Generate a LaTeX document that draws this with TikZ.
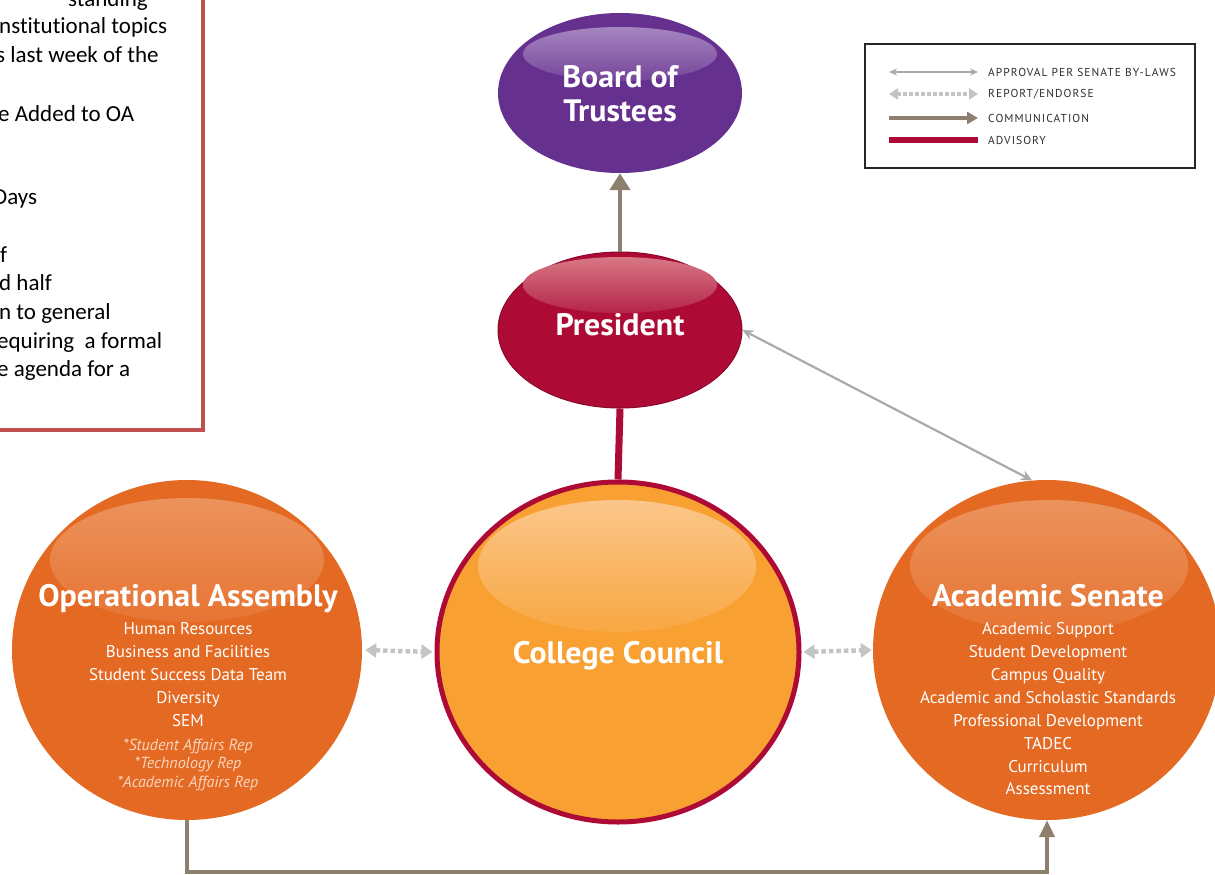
\documentclass[tikz,border=0pt]{standalone}
\usepackage{fontspec}
\setmainfont{PT Sans}
\newfontfamily\notefont{Carlito}[Ligatures=NoCommon]
\newfontfamily\titlefont{PT Sans}[FakeStretch=1.03]
\newfontfamily\legfont{PT Sans}[LetterSpace=9]
\usetikzlibrary{shapes.geometric,arrows.meta}
\definecolor{purp}{HTML}{66308F}
\definecolor{purphl}{HTML}{A585BF}
\definecolor{crim}{HTML}{AD0B35}
\definecolor{crimhl}{HTML}{D77884}
\definecolor{ccfill}{HTML}{F8A032}
\definecolor{cchl}{HTML}{FBC68A}
\definecolor{orng}{HTML}{E46A24}
\definecolor{orhl}{HTML}{EC925C}
\definecolor{taupe}{HTML}{8E806F}
\definecolor{apgray}{HTML}{A8ABAE}
\definecolor{rpgray}{HTML}{C4C4C4}
\definecolor{itcol}{HTML}{F9D5BE}
\definecolor{boxred}{HTML}{C0504D}
\definecolor{legtext}{HTML}{2E2E2E}
\begin{document}
\begin{tikzpicture}[x=1pt,y=-1pt,
  blob/.style={ellipse, inner sep=0, draw=none},
  ttl/.style={font=\titlefont\bfseries\fontsize{31}{34}\selectfont, text=white, align=center, inner sep=0},
  item/.style={font=\fontsize{17}{20}\selectfont, text=white, anchor=base, inner sep=0},
  itemit/.style={font=\itshape\fontsize{16}{19}\selectfont, text=itcol, anchor=base, inner sep=0},
  note/.style={font=\notefont\fontsize{23}{28}\selectfont, anchor=base west, inner sep=0, text=black},
  legl/.style={font=\legfont\fontsize{11.5}{13}\selectfont, text=legtext, anchor=west, inner sep=0},
  comm/.style={draw=taupe, line width=4.5pt},
  report/.style={draw=rpgray, line width=4.5pt, dash pattern=on 4.5pt off 3pt},
  approval/.style={draw=apgray, line width=2.2pt},
  advis/.style={draw=crim, line width=7pt}
]
\useasboundingbox (0,0) rectangle (1215,875);
\fill[white] (0,0) rectangle (1215,875);

% note box
\draw[line width=4pt, boxred] (-20,-20) rectangle (203,430);
\node[note] (n1) at (68,7) {standing};
\node[note] (n2) at (-1,34) {nstitutional topics};
\node[note] (n3) at (-4,63) {s last week of the};
\node[note] (n4) at (-2,121) {e Added to OA};
\node[note] (n5) at (-7,204) {Days};
\node[note] (n6) at (0,262) {f};
\node[note] (n7) at (-1,290) {d half};
\node[note] (n8) at (-1,319) {n to general};
\node[note] (n9) at (-3,348) {equiring\ \ a formal};
\node[note] (n10) at (-3,376) {e agenda for a};

% shapes
\node[blob, fill=purp, minimum width=244pt, minimum height=160pt] (bot) at (620,93) {};
\node[blob, fill=crim, draw=crim!80!black, line width=1pt, minimum width=244pt, minimum height=156pt] (pres) at (620,330) {};
\node[blob, fill=ccfill, draw=crim, line width=5pt, minimum width=362pt, minimum height=340pt] (cc) at (618,652) {};
\node[blob, fill=orng, minimum width=350pt, minimum height=340pt] (oa) at (187,650) {};
\node[blob, fill=orng, minimum width=348pt, minimum height=340pt] (as) at (1047,650) {};

% highlights
\shade[top color=purphl, bottom color=purp!90!white] (620,54) ellipse [x radius=97pt, y radius=27pt];
\shade[top color=crimhl, bottom color=crim!90!white] (620,285) ellipse [x radius=97pt, y radius=28pt];
\shade[top color=cchl, bottom color=ccfill!92!white] (617,566) ellipse [x radius=139pt, y radius=66pt];
\shade[top color=orhl, bottom color=orng!93!white] (187,560) ellipse [x radius=137pt, y radius=62pt];
\shade[top color=orhl, bottom color=orng!93!white] (1049,566) ellipse [x radius=139pt, y radius=66pt];

% titles
\node[ttl] (botT) at (620,94) {Board of\\Trustees};
\node[ttl, anchor=base] (presT) at (620,335) {President};
\node[ttl, anchor=base] (ccT) at (618,663) {College Council};
\node[ttl, anchor=base] (oaT) at (188,606) {Operational Assembly};
\node[ttl, anchor=base] (asT) at (1048,606) {Academic Senate};

% OA items
\node[item] (oa1) at (188,634) {Human Resources};
\node[item] (oa2) at (188,657) {Business and Facilities};
\node[item] (oa3) at (188,680) {Student Success Data Team};
\node[item] (oa4) at (188,703) {Diversity};
\node[item] (oa5) at (188,726) {SEM};
\node[itemit] (oa6) at (188,750) {*Student Affairs Rep};
\node[itemit] (oa7) at (188,768) {*Technology Rep};
\node[itemit] (oa8) at (188,787) {*Academic Affairs Rep};

% AS items
\node[item] (as1) at (1048,634) {Academic Support};
\node[item] (as2) at (1048,657) {Student Development};
\node[item] (as3) at (1048,680) {Campus Quality};
\node[item] (as4) at (1048,703) {Academic and Scholastic Standards};
\node[item] (as5) at (1048,726) {Professional Development};
\node[item] (as6) at (1048,749) {TADEC};
\node[item] (as7) at (1048,772) {Curriculum};
\node[item] (as8) at (1048,794) {Assessment};

% connectors
\draw[comm, -{Triangle[width=20pt,length=17pt]}] (pres.north) -- (bot.south);
\draw[advis] (pres.south) -- (cc.north);
\draw[approval, {Stealth[width=10pt,length=11pt]}-{Stealth[width=10pt,length=11pt]}] (pres.east) -- (as.95);
\draw[report, {Triangle[width=14pt,length=11pt]}-{Triangle[width=14pt,length=11pt]}, shorten <=3pt, shorten >=2pt] (oa.east) -- (cc.west);
\draw[report, {Triangle[width=14pt,length=11pt]}-{Triangle[width=14pt,length=11pt]}, shorten <=2pt, shorten >=1pt] (cc.east) -- (as.west);
\coordinate (cm) at (187,872);
\draw[comm, -{Triangle[width=15pt,length=17pt]}] (oa.south) -- (cm) -| (as.south);

% legend
\node[draw=black!85, line width=1.8pt, minimum width=330pt, minimum height=124pt, inner sep=0] (leg) at (1030,106) {};
\coordinate (l1a) at (889,72); \coordinate (l1b) at (978,72);
\coordinate (l2a) at (889,94); \coordinate (l2b) at (978,94);
\coordinate (l3a) at (889,118); \coordinate (l3b) at (978,118);
\coordinate (l4a) at (889,140); \coordinate (l4b) at (978,140);
\draw[draw=apgray, line width=1.5pt, {Stealth[width=7pt,length=8pt]}-{Stealth[width=7pt,length=8pt]}] (l1a) -- (l1b);
\draw[draw=rpgray, line width=4pt, dash pattern=on 3.5pt off 2.5pt, {Triangle[width=11pt,length=9pt]}-{Triangle[width=11pt,length=9pt]}] (l2a) -- (l2b);
\draw[draw=taupe, line width=4.5pt, -{Triangle[width=12pt,length=11pt]}] (l3a) -- (l3b);
\draw[draw=crim, line width=6.5pt] (l4a) -- (l4b);
\node[legl] (lt1) at (988,72) {APPROVAL PER SENATE BY-LAWS};
\node[legl] (lt2) at (988,94) {REPORT/ENDORSE};
\node[legl] (lt3) at (988,118) {COMMUNICATION};
\node[legl] (lt4) at (988,140) {ADVISORY};
\end{tikzpicture}
\end{document}
